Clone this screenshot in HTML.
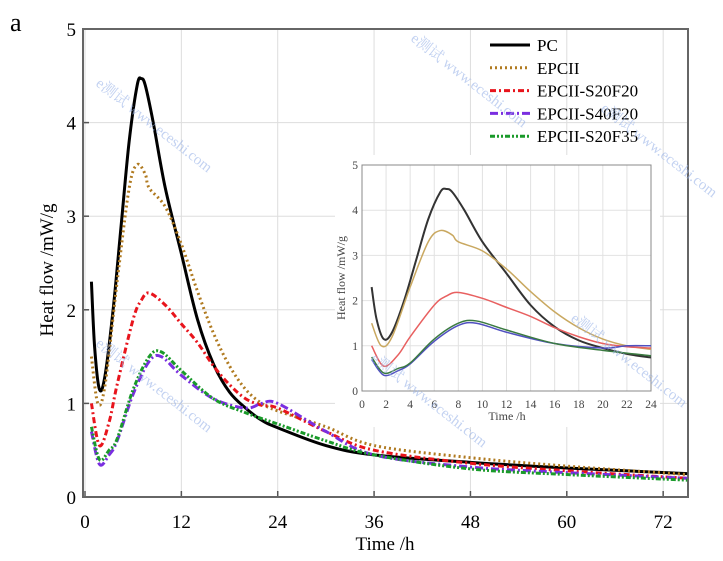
<!DOCTYPE html>
<html><head><meta charset="utf-8"><style>
body{margin:0;background:#fff;}
svg text{font-family:"Liberation Serif","Noto Serif CJK SC",serif;}
</style></head><body>
<svg id="c" width="723" height="556" xmlns="http://www.w3.org/2000/svg"></svg>
<script>
const seriesNames=["PC","EPCII","EPCII-S20F20","EPCII-S40F20","EPCII-S20F35"];
const pcT=[0.8,1.2,1.8,2.5,3.5,4.5,5.5,6.5,7,7.5,8.5,10,12,14,16,18,20,22,24,30,36,48,60,75];
const pcV=[2.3,1.6,1.15,1.3,2.0,2.9,3.8,4.4,4.47,4.4,4.0,3.3,2.6,1.9,1.42,1.12,0.95,0.82,0.74,0.55,0.45,0.37,0.31,0.25];
const epT=[0.8,1.6,2.5,4,5.5,6.5,7.5,8,10,12,14,16,18,20,22,24,30,36,48,60,75];
const epV=[1.5,1.0,1.2,2.3,3.3,3.55,3.45,3.3,3.1,2.7,2.2,1.75,1.4,1.15,1.0,0.92,0.75,0.55,0.42,0.33,0.24];
const s1T=[0.8,1.8,3,4,6,7,8,10,12,14,16,18,20,22,24,30,36,48,60,75];
const s1V=[1.0,0.55,0.8,1.2,1.9,2.1,2.18,2.05,1.85,1.65,1.4,1.2,1.05,0.98,0.95,0.7,0.5,0.36,0.28,0.2];
const s2T=[0.8,1.8,3,4,6,8,9.5,12,16,20,22,24,30,36,48,60,75];
const s2V=[0.7,0.35,0.45,0.6,1.1,1.45,1.5,1.3,1.05,0.95,1.0,1.0,0.7,0.45,0.32,0.26,0.2];
const s3T=[0.8,1.8,3,4,6,8,9.5,12,16,20,24,30,36,48,60,75];
const s3V=[0.75,0.4,0.5,0.62,1.15,1.5,1.55,1.35,1.05,0.9,0.78,0.6,0.45,0.3,0.24,0.18];
const mainXTicks=[0,12,24,36,48,60,72];
const insetXTicks=[0,2,4,6,8,10,12,14,16,18,20,22,24];
const yTicks=[0,1,2,3,4,5];

const svg=document.getElementById('c');
const NS="http://www.w3.org/2000/svg";
function mk(tag,attrs,parent){const e=document.createElementNS(NS,tag);for(const k in attrs)e.setAttribute(k,attrs[k]);(parent||svg).appendChild(e);return e;}
const series=[
 {t:pcT,v:pcV,c:"#000",w:3,d:"",iw:2,ic:"#333"},
 {t:epT,v:epV,c:"#b07a20",w:3,d:"2 3",iw:1.5,ic:"#c9a860"},
 {t:s1T,v:s1V,c:"#e8141c",w:3,d:"6 3 2 3",iw:1.5,ic:"#e86060"},
 {t:s2T,v:s2V,c:"#7a2ee0",w:3,d:"8 3 2 3",iw:1.5,ic:"#5050c0"},
 {t:s3T,v:s3V,c:"#1a9a2a",w:3,d:"5 2 2 2 2 2",iw:1.5,ic:"#3a7a40"}
];
function path(s,X,Y,maxT){let p=[];for(let i=0;i<s.t.length;i++){if(s.t[i]>maxT+2)break;p.push(X(s.t[i])+","+Y(s.v[i]));}return p;}
// smooth via catmull-rom
function smooth(pts){const P=pts.map(s=>s.split(",").map(Number));let d="M"+P[0];for(let i=0;i<P.length-1;i++){const p0=P[i-1]||P[i],p1=P[i],p2=P[i+1],p3=P[i+2]||P[i+1];
 d+=` C${p1[0]+(p2[0]-p0[0])/6},${p1[1]+(p2[1]-p0[1])/6} ${p2[0]-(p3[0]-p1[0])/6},${p2[1]-(p3[1]-p1[1])/6} ${p2[0]},${p2[1]}`;}return d;}

// main axes
const mx0=85,mxs=8.03,my0=497,mys=93.6;
const MX=t=>mx0+t*mxs, MY=v=>my0-v*mys;
const L=83,R=688,T=29,B=497;
mainXTicks.forEach(t=>{const g=mk('line',{x1:MX(t),x2:MX(t),y1:T,y2:B,stroke:"#ddd","stroke-width":1});

const tx=mk('text',{x:MX(t),y:528,"text-anchor":"middle","font-size":19});tx.textContent=t;

mk('line',{x1:MX(t),x2:MX(t),y1:B,y2:B-6,stroke:"#555","stroke-width":1.5});});
yTicks.forEach(v=>{const g=mk('line',{x1:L,x2:R,y1:MY(v),y2:MY(v),stroke:"#ddd","stroke-width":1});

const tx=mk('text',{x:76,y:MY(v)+7,"text-anchor":"end","font-size":19});tx.textContent=v;

mk('line',{x1:L,x2:L+6,y1:MY(v),y2:MY(v),stroke:"#555","stroke-width":1.5});});
const fr=mk('rect',{x:L,y:T,width:R-L,height:B-T,fill:"none",stroke:"#666","stroke-width":2});

series.forEach((s,i)=>{const p=mk('path',{d:smooth(path(s,MX,MY,75)),fill:"none",stroke:s.c,"stroke-width":s.w,"stroke-dasharray":s.d});
});
let t1=mk('text',{x:385,y:550,"text-anchor":"middle","font-size":19});t1.textContent="Time /h";

let t2=mk('text',{x:0,y:0,"text-anchor":"middle","font-size":19,transform:"translate(53,270) rotate(-90)"});t2.textContent="Heat flow /mW/g";

let t3=mk('text',{x:10,y:31,"font-size":26});t3.textContent="a";


// legend
const lg=mk('g',{});
series.forEach((s,i)=>{const y=45+i*22.8;
const ln=mk('line',{x1:490,x2:530,y1:y,y2:y,stroke:s.c,"stroke-width":3,"stroke-dasharray":s.d},lg);

const tx=mk('text',{x:537,y:y+6,"font-size":17},lg);tx.textContent=seriesNames[i];
});

// inset
const IL=362,IR=651,IT=165,IB=391;
const IX=t=>IL+t*(IR-IL)/24, IY=v=>IB-v*(IB-IT)/5;
const bg=mk('rect',{x:335,y:155,width:325,height:272,fill:"#fff"});

const cp=mk('clipPath',{id:"ic"});mk('rect',{x:IL,y:IT,width:IR-IL,height:IB-IT},cp);
insetXTicks.forEach(t=>{mk('line',{x1:IX(t),x2:IX(t),y1:IT,y2:IB,stroke:"#e2e2e2","stroke-width":1});
const tx=mk('text',{x:IX(t),y:408,"text-anchor":"middle","font-size":11.5,fill:"#444"});tx.textContent=t;
});
yTicks.forEach(v=>{mk('line',{x1:IL,x2:IR,y1:IY(v),y2:IY(v),stroke:"#e2e2e2","stroke-width":1});
const tx=mk('text',{x:358,y:IY(v)+4,"text-anchor":"end","font-size":11.5,fill:"#444"});tx.textContent=v;
});
const ifr=mk('rect',{x:IL,y:IT,width:IR-IL,height:IB-IT,fill:"none",stroke:"#888","stroke-width":1});

series.forEach((s,i)=>{const p=mk('path',{d:smooth(path(s,IX,IY,24)),fill:"none",stroke:s.ic,"stroke-width":s.iw,"clip-path":"url(#ic)"});
});
let t4=mk('text',{x:507,y:420,"text-anchor":"middle","font-size":12,fill:"#444"});t4.textContent="Time /h";

let t5=mk('text',{x:0,y:0,"text-anchor":"middle","font-size":12,fill:"#444",transform:"translate(345,278) rotate(-90)"});t5.textContent="Heat flow /mW/g";


// watermarks
[[95,85],[410,40],[600,110],[95,345],[370,360],[570,320]].forEach(p=>{
const w=mk('text',{x:p[0],y:p[1],"font-size":15,fill:"#9ab4e8",opacity:0.6,transform:`rotate(38 ${p[0]} ${p[1]})`});
w.textContent="e测试 www.eceshi.com";
});
</script>
</body></html>
